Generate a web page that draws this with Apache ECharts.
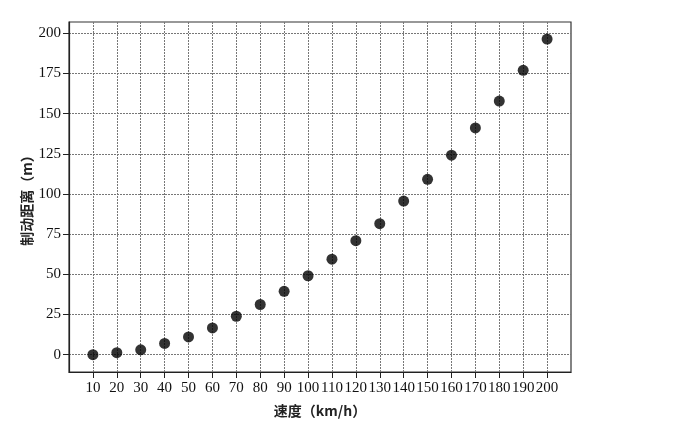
<!DOCTYPE html>
<html>
<head>
<meta charset="utf-8">
<script src="https://cdn.jsdelivr.net/npm/echarts@6/dist/echarts.min.js"></script>
<style>html,body{margin:0;padding:0;background:#fff;}#c{width:689px;height:423px;}</style>
</head>
<body>
<div id="c"></div>
<script>
const speeds = [10,20,30,40,50,60,70,80,90,100,110,120,130,140,150,160,170,180,190,200];
const distances = [0,1.2,3,7,11,16.6,23.9,31.2,39.4,49.1,59.4,70.9,81.5,95.6,109.1,124.1,141.1,157.8,176.9,196.4];
const xTicks = [10,20,30,40,50,60,70,80,90,100,110,120,130,140,150,160,170,180,190,200];
const yTicks = [0,25,50,75,100,125,150,175,200];
const xTitle = '速度（km/h）';
const yTitle = '制动距离（m）';

const chart = echarts.init(document.getElementById('c'));
const serif = '"Liberation Serif","DejaVu Serif",serif';
chart.setOption({
  animation: false,
  backgroundColor: '#fff',
  grid: { left: 69, right: 118, top: 22, bottom: 51, show: true, borderColor: '#333', borderWidth: 1.2, backgroundColor: 'transparent', outerBoundsMode: 'none', containLabel: false },
  xAxis: {
    type: 'value', min: 0, max: 210,
    name: xTitle, nameLocation: 'middle', nameGap: 32,
    nameTextStyle: { fontFamily: '"Noto Sans CJK SC"', fontSize: 14, fontWeight: 'bold', color: '#222' },
    axisLine: { show: true, onZero: false, lineStyle: { color: '#222', width: 1.2 } },
    axisTick: { show: true, length: 6, customValues: xTicks, lineStyle: { color: '#222' } },
    axisLabel: { customValues: xTicks, fontFamily: serif, fontSize: 15, color: '#111', margin: 9 },
    splitLine: { show: true, lineStyle: { type: [2, 1], color: '#777', width: 1 } }
  },
  yAxis: {
    type: 'value', min: -10.8, max: 207,
    name: yTitle, nameLocation: 'middle', nameGap: 35, nameRotate: 90, nameMoveOverlap: false,
    nameTextStyle: { fontFamily: '"Noto Sans CJK SC"', fontSize: 14, fontWeight: 'bold', color: '#222' },
    axisLine: { show: true, onZero: false, lineStyle: { color: '#222', width: 1.2 } },
    axisTick: { show: true, length: 6, customValues: yTicks, lineStyle: { color: '#222' } },
    axisLabel: { customValues: yTicks, fontFamily: serif, fontSize: 15, color: '#111', margin: 8 },
    splitLine: { show: true, lineStyle: { type: [2, 1], color: '#777', width: 1 } }
  },
  series: [{
    type: 'scatter',
    data: speeds.map((s, i) => [s, distances[i]]),
    symbolSize: 11,
    itemStyle: { color: '#000' }
  }]
});
</script>
</body>
</html>
